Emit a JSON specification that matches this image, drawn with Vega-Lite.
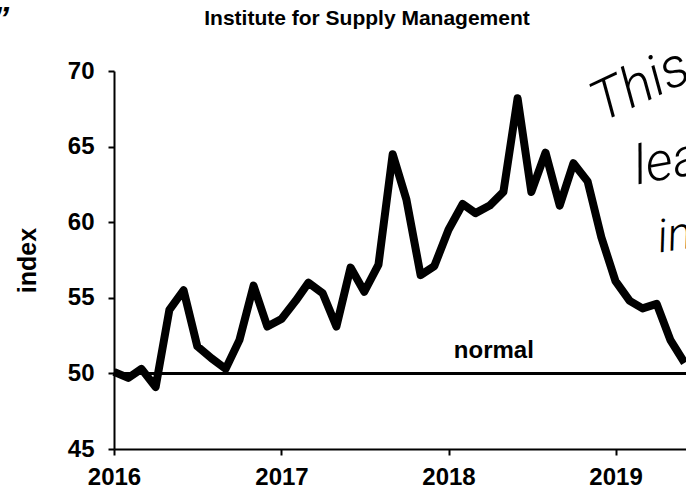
{
  "$schema": "https://vega.github.io/schema/vega-lite/v6.json",
  "width": 572,
  "height": 378,
  "autosize": {"type": "none"},
  "padding": {"left": 114, "top": 71, "right": 0, "bottom": 45},
  "background": "white",
  "config": {"view": {"stroke": null}, "font": "Liberation Sans"},
  "title": {
    "text": "Institute for Supply Management",
    "font": "Liberation Sans",
    "fontSize": 21,
    "fontWeight": "bold",
    "color": "black",
    "anchor": "middle",
    "frame": "group",
    "dx": -33,
    "offset": -26
  },
  "datasets": {
    "ism": [
      {"month": "2016-01-01", "index": 50.1},
      {"month": "2016-02-01", "index": 49.7},
      {"month": "2016-03-01", "index": 50.3},
      {"month": "2016-04-01", "index": 49.1},
      {"month": "2016-05-01", "index": 54.2},
      {"month": "2016-06-01", "index": 55.5},
      {"month": "2016-07-01", "index": 51.8},
      {"month": "2016-08-01", "index": 51.0},
      {"month": "2016-09-01", "index": 50.3},
      {"month": "2016-10-01", "index": 52.2},
      {"month": "2016-11-01", "index": 55.8},
      {"month": "2016-12-01", "index": 53.1},
      {"month": "2017-01-01", "index": 53.6},
      {"month": "2017-02-01", "index": 54.8},
      {"month": "2017-03-01", "index": 56.0},
      {"month": "2017-04-01", "index": 55.3},
      {"month": "2017-05-01", "index": 53.1},
      {"month": "2017-06-01", "index": 57.0},
      {"month": "2017-07-01", "index": 55.4},
      {"month": "2017-08-01", "index": 57.2},
      {"month": "2017-09-01", "index": 64.5},
      {"month": "2017-10-01", "index": 61.5},
      {"month": "2017-11-01", "index": 56.5},
      {"month": "2017-12-01", "index": 57.1},
      {"month": "2018-01-01", "index": 59.5},
      {"month": "2018-02-01", "index": 61.2},
      {"month": "2018-03-01", "index": 60.6},
      {"month": "2018-04-01", "index": 61.1},
      {"month": "2018-05-01", "index": 62.0},
      {"month": "2018-06-01", "index": 68.2},
      {"month": "2018-07-01", "index": 62.0},
      {"month": "2018-08-01", "index": 64.6},
      {"month": "2018-09-01", "index": 61.1},
      {"month": "2018-10-01", "index": 63.9},
      {"month": "2018-11-01", "index": 62.7},
      {"month": "2018-12-01", "index": 59.0},
      {"month": "2019-01-01", "index": 56.1},
      {"month": "2019-02-01", "index": 54.8},
      {"month": "2019-03-01", "index": 54.3},
      {"month": "2019-04-01", "index": 54.6},
      {"month": "2019-05-01", "index": 52.2},
      {"month": "2019-06-01", "index": 50.7}
    ],
    "normal": [{"label": "normal", "month": "2018-04-10", "index": 51.0}],
    "note1": [{"label": "This", "month": "2018-12-01", "index": 66.6}],
    "note2": [{"label": "lea", "month": "2019-02-17", "index": 62.5}],
    "note3": [{"label": "in", "month": "2019-04-07", "index": 58.0}],
    "quote": [{"label": "”", "month": "2015-04-10", "index": 72.7}]
  },
  "encoding": {
    "x": {
      "field": "month",
      "type": "temporal",
      "title": null,
      "scale": {"domain": ["2016-01-01", "2019-06-04"], "nice": false},
      "axis": {
        "format": "%Y",
        "tickCount": {"interval": "year", "step": 1},
        "grid": false,
        "domainColor": "black",
        "domainWidth": 2,
        "tickColor": "black",
        "tickWidth": 2,
        "tickSize": 6,
        "labelFontSize": 24,
        "labelFontWeight": "bold",
        "labelColor": "black",
        "labelPadding": 10,
        "labelFlush": false,
        "labelFont": "Liberation Sans"
      }
    },
    "y": {
      "field": "index",
      "type": "quantitative",
      "title": "index",
      "scale": {"domain": [45, 70], "nice": false, "zero": false},
      "axis": {
        "values": [45, 50, 55, 60, 65, 70],
        "grid": false,
        "domainColor": "black",
        "domainWidth": 2,
        "tickColor": "black",
        "tickWidth": 2,
        "tickSize": 6,
        "labelFontSize": 24,
        "labelFontWeight": "bold",
        "labelColor": "black",
        "labelPadding": 14,
        "labelFont": "Liberation Sans",
        "titleFontSize": 25,
        "titleFontWeight": "bold",
        "titleColor": "black",
        "titleFont": "Liberation Sans",
        "titlePadding": 27
      }
    }
  },
  "layer": [
    {
      "data": {"name": "ism"},
      "mark": {"type": "rule", "color": "black", "strokeWidth": 2},
      "encoding": {"y": {"datum": 50}, "x": null}
    },
    {
      "data": {"name": "ism"},
      "mark": {"type": "line", "color": "black", "strokeWidth": 8, "strokeJoin": "round"}
    },
    {
      "data": {"name": "normal"},
      "mark": {"type": "text", "fontSize": 24, "fontWeight": "bold", "color": "black", "align": "center", "baseline": "alphabetic", "font": "Liberation Sans"},
      "encoding": {"text": {"field": "label"}}
    },
    {
      "data": {"name": "note1"},
      "mark": {"type": "text", "fontSize": 56, "fontWeight": 300, "fontStyle": "italic", "angle": -25, "color": "black", "align": "left", "baseline": "alphabetic", "font": "Roboto"},
      "encoding": {"text": {"field": "label"}}
    },
    {
      "data": {"name": "note2"},
      "mark": {"type": "text", "fontSize": 54, "fontWeight": 300, "fontStyle": "italic", "angle": -10, "color": "black", "align": "left", "baseline": "alphabetic", "font": "Roboto"},
      "encoding": {"text": {"field": "label"}}
    },
    {
      "data": {"name": "note3"},
      "mark": {"type": "text", "fontSize": 46, "fontWeight": 300, "fontStyle": "italic", "angle": -8, "color": "black", "align": "left", "baseline": "alphabetic", "font": "Roboto"},
      "encoding": {"text": {"field": "label"}}
    },
    {
      "data": {"name": "quote"},
      "mark": {"type": "text", "fontSize": 34, "fontWeight": "bold", "fontStyle": "italic", "color": "black", "align": "left", "baseline": "alphabetic", "font": "Liberation Sans"},
      "encoding": {"text": {"field": "label"}}
    }
  ]
}
